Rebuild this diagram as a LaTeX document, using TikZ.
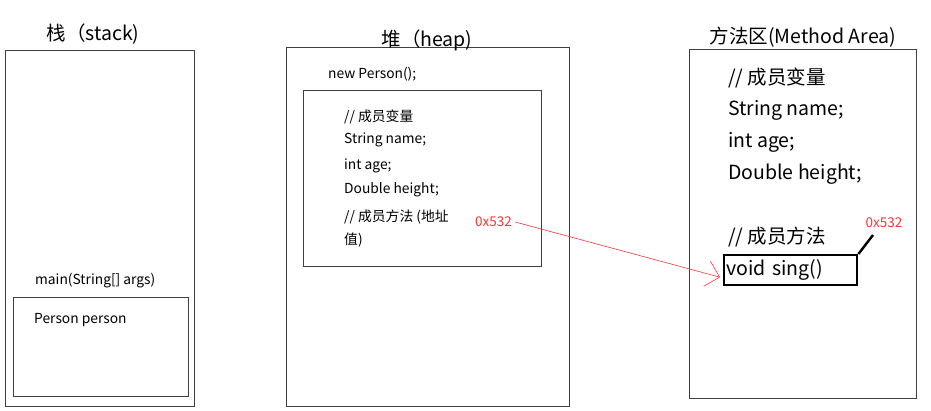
\documentclass[tikz,border=0pt]{standalone}
\usepackage{fontspec}
\setmainfont{Noto Sans CJK SC}
\usetikzlibrary{arrows.meta,positioning}

\begin{document}
\begin{tikzpicture}[
                    x=1pt, y=-1pt,
                    area/.style={
                        rectangle,
                        draw=black!75,
                        line width=0.9pt,
                        anchor=north west,
                        inner sep=0pt
                    },
                    title/.style={
                        font=\fontsize{19.5}{21}\selectfont
                    },
                    small/.style={
                        anchor=west,
                        inner sep=0pt,
                        font=\fontsize{13.8}{15}\selectfont
                    },
                    big/.style={
                        anchor=west,
                        inner sep=0pt,
                        font=\fontsize{19.5}{21}\selectfont
                    },
                    addr/.style={
                        inner sep=0pt,
                        text=red!80,
                        font=\fontsize{13.5}{15}\selectfont
                    },
                    ptr/.style={
                        draw=red!80,
                        line width=0.6pt,
                        -{Straight Barb[length=13pt,width=26pt]}
                    }
                ]
                \useasboundingbox (0,0) rectangle (931,410);
                \newcommand{\mkbox}[5]{
                    \node (#1) [area, minimum width=#4, minimum height=#5] at (#2,#3) {};
                }

                % stack
                \mkbox{stack}{5}{50}{189}{356}
                \mkbox{frame}{13}{297}{175}{99}
                \node (stacktitle) [title] at (93,34) {栈（stack)};
                \node (mainsig) [small] at (35,281) {main(String[] args)};
                \node (person) [small] at (34,320) {Person person};

                % heap
                \mkbox{heap}{286}{47}{283}{359}
                \mkbox{obj}{303}{90}{238}{176}
                \node (heaptitle) [title] at (427,40) {堆（heap)};
                \node (newp) [small] at (328,74) {new Person();};
                \node (h1) [small] at (344,117) {// 成员变量};
                \node (h2) [small] at (344,140) {String name;};
                \node (h3) [small] at (344,166) {int age;};
                \node (h4) [small] at (344,190) {Double height;};
                \node (h5) [small] at (344,217) {// 成员方法 (地址};
                \node (h6) [small] at (344,240) {值)};
                \node (hexa) [addr, anchor=west] at (475,222) {0x532};

                % method area
                \mkbox{method}{689}{49}{227}{349}
                \node (methodtitle) [title] at (803,37) {方法区(Method Area)};
                \node (m1) [big] at (728,78) {// 成员变量};
                \node (m2) [big] at (728,110) {String name;};
                \node (m3) [big] at (728,142) {int age;};
                \node (m4) [big] at (728,174) {Double height;};
                \node (m5) [big] at (728,237) {// 成员方法};
                \node (sing) [area, draw=black, line width=2.4pt, minimum width=133,
                    minimum height=30, text width=129pt, inner xsep=2pt,
                    font=\fontsize{19.5}{21}\selectfont] at (723,254) {void sing()};
                \coordinate (tip) at (873,235);
                \node (hexb) [addr] at (884,223) {0x532};

                \draw[line width=2.4pt] (sing.north east) -- (tip);
                \path[ptr] (hexa.east) ++(3,0) -- ([xshift=-3pt,yshift=-7pt]sing.west);
            \end{tikzpicture}
\end{document}
